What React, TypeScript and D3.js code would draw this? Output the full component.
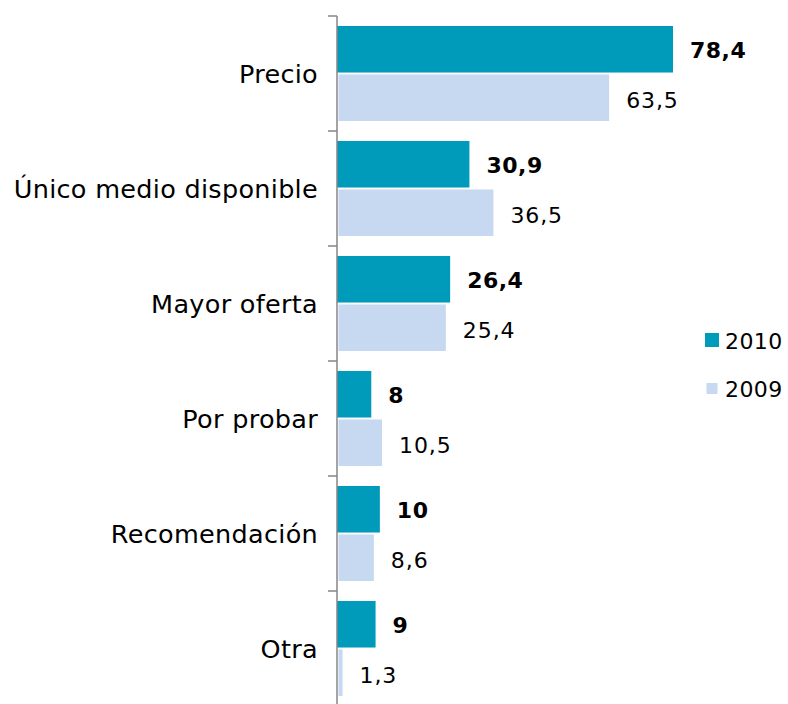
import React from 'react';
import * as d3 from 'd3';

const categories = ['Precio', 'Único medio disponible', 'Mayor oferta', 'Por probar', 'Recomendación', 'Otra'];
const series = ['2010', '2009'];
const values2010 = [78.4, 30.9, 26.4, 8, 10, 9];
const values2009 = [63.5, 36.5, 25.4, 10.5, 8.6, 1.3];
const colors = ['#009bbb', '#c6d9f1'];

const fmt = (v: number) => String(v).replace('.', ',');

export default function App() {
  const width = 788;
  const height = 704;
  const x0 = 337;
  const font = '"DejaVu Sans", Verdana, sans-serif';

  const x = d3.scaleLinear().domain([0, 78.4]).range([x0, 673]);
  const y = d3.scaleBand().domain(categories).range([16, 706]);
  const y1 = d3.scaleBand().domain(series).range([10, 105]).paddingInner(0.04);

  const rows = categories.map((c, i) => ({ c, vals: [values2010[i], values2009[i]] }));

  return (
    <svg width={width} height={height} style={{ position: 'absolute', left: 0, top: 0, background: '#fff' }}>
      {rows.map((r) => {
        const by = y(r.c)!;
        return (
          <g key={r.c}>
            {r.vals.map((v, j) => {
              const s = series[j];
              const yy = by + y1(s)!;
              const bx = j === 0 ? x0 : x0 + 1.5;
              const mid = yy + y1.bandwidth() / 2;
              return (
                <g key={s}>
                  <rect x={bx} y={yy} width={x(v) - bx} height={y1.bandwidth()} fill={colors[j]} />
                  <text x={x(v) + 17} y={mid + (j === 0 ? 8.5 : 10)}
                    fontFamily={font} fontSize={22} letterSpacing={j === 0 ? 0.5 : 0.9}
                    fontWeight={j === 0 ? 'bold' : 'normal'} fill="#000">
                    {fmt(v)}
                  </text>
                </g>
              );
            })}
            <text x={318} y={by + y.bandwidth() / 2 + 9.5} textAnchor="end"
              fontFamily={font} fontSize={25.5} letterSpacing={0.3} fill="#000">
              {r.c}
            </text>
          </g>
        );
      })}
      <line x1={x0} x2={x0} y1={16} y2={706} stroke="#868686" strokeWidth={1.5} />
      {categories.concat(['']).map((c, i) => {
        const ty = i < categories.length ? y(c)! : y.range()[1];
        return <line key={i} x1={328} x2={x0} y1={ty} y2={ty} stroke="#868686" strokeWidth={1.5} />;
      })}
      {series.map((s, j) => {
        const cy = 340 + j * 48.5;
        const sz = j === 0 ? 14 : 11;
        return (
          <g key={s}>
            <rect x={712 - sz / 2} y={cy - sz / 2} width={sz} height={sz} fill={colors[j]} />
            <text x={725} y={349 + j * 48} fontFamily={font} fontSize={22} letterSpacing={0.4}
              fill="#000">
              {s}
            </text>
          </g>
        );
      })}
    </svg>
  );
}
